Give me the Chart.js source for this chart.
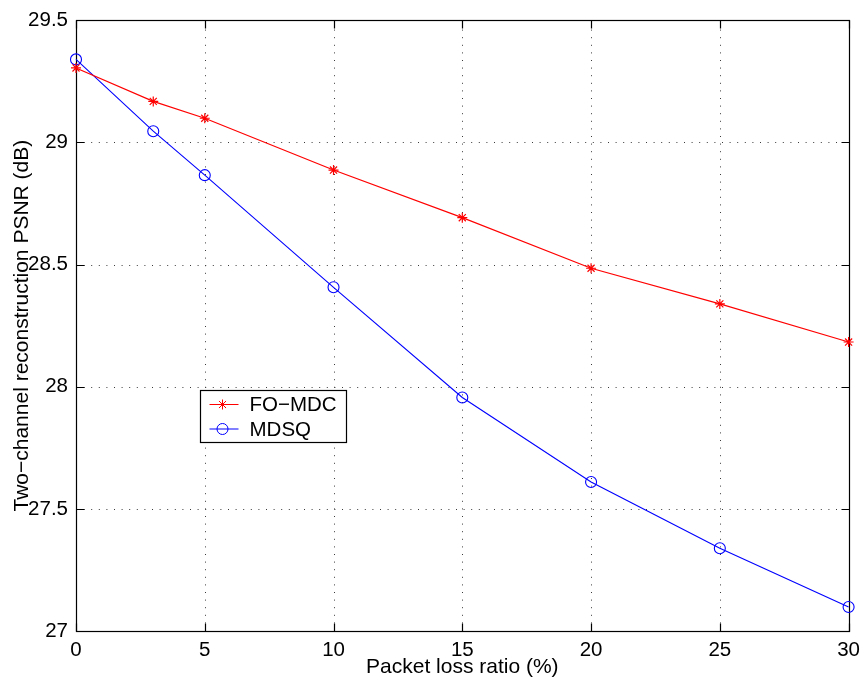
<!DOCTYPE html>
<html><head><meta charset="utf-8">
<script src="https://cdn.jsdelivr.net/npm/chart.js@4"></script>
<style>html,body{margin:0;padding:0;background:#fff}#wrap{width:867px;height:682px}</style>
</head><body><div id="wrap"><canvas id="c" width="867" height="682"></canvas></div>
<script>
const lossRatio = [0, 3, 5, 10, 15, 20, 25, 30];
const foMdc = [29.305, 29.168, 29.099, 28.887, 28.692, 28.485, 28.339, 28.183];
const mdsq = [29.34, 29.046, 28.866, 28.407, 27.956, 27.61, 27.339, 27.098];
const xTicks = [0, 5, 10, 15, 20, 25, 30];
const xTickLabels = ['0', '5', '10', '15', '20', '25', '30'];
const yTicks = [27, 27.5, 28, 28.5, 29, 29.5];
const yTickLabels = ['27', '27.5', '28', '28.5', '29', '29.5'];
const seriesNames = ['FO\u2212MDC', 'MDSQ'];
const xTitle = 'Packet loss ratio (%)';
const yTitle = 'Two\u2212channel reconstruction PSNR (dB)';

const FONT = "'Liberation Sans', Arial, Helvetica, sans-serif";

const framePlugin = {
  id: 'frame',
  beforeDatasetsDraw(chart) {
    const ctx = chart.ctx;
    const {left, right, top, bottom} = chart.chartArea;
    const xs = chart.scales.x, ys = chart.scales.y;
    ctx.save();
    ctx.strokeStyle = '#3a3a3a';
    ctx.lineWidth = 1;
    ctx.setLineDash([1, 6.6]);
    xTicks.forEach(v => {
      const px = Math.round(xs.getPixelForValue(v)) + 0.5;
      if (px <= left + 1 || px >= right - 1) return;
      ctx.beginPath(); ctx.moveTo(px, bottom); ctx.lineTo(px, top); ctx.stroke();
    });
    yTicks.forEach(v => {
      const py = Math.round(ys.getPixelForValue(v)) + 0.5;
      if (py <= top + 1 || py >= bottom - 1) return;
      ctx.beginPath(); ctx.moveTo(left, py); ctx.lineTo(right, py); ctx.stroke();
    });
    ctx.setLineDash([]);
    ctx.strokeStyle = '#000';
    ctx.lineWidth = 1.2;
    const L = Math.round(left) + 0.5, R = Math.round(right) + 0.5, T = Math.round(top) + 0.5, B = Math.round(bottom) + 0.5;
    ctx.strokeRect(L, T, R - L, B - T);
    const tl = 8;
    ctx.beginPath();
    xTicks.forEach(v => {
      const px = Math.round(xs.getPixelForValue(v)) + 0.5;
      ctx.moveTo(px, B); ctx.lineTo(px, B - tl);
      ctx.moveTo(px, T); ctx.lineTo(px, T + tl);
    });
    yTicks.forEach(v => {
      const py = Math.round(ys.getPixelForValue(v)) + 0.5;
      ctx.moveTo(L, py); ctx.lineTo(L + tl, py);
      ctx.moveTo(R, py); ctx.lineTo(R - tl, py);
    });
    ctx.stroke();
    ctx.restore();
  },
  afterDatasetsDraw(chart) {
    const ctx = chart.ctx;
    const {left, top} = chart.chartArea;
    const bx = Math.round(left + 124) + 0.5, by = Math.round(top + 370) + 0.5;
    const bw = 146, bh = 52;
    ctx.save();
    ctx.fillStyle = '#fff';
    ctx.fillRect(bx, by, bw, bh);
    ctx.strokeStyle = '#000';
    ctx.lineWidth = 1.2;
    ctx.strokeRect(bx, by, bw, bh);
    chart.data.datasets.forEach((ds, i) => {
      const ly = by + 14 + i * 24.5;
      ctx.strokeStyle = ds.borderColor;
      ctx.lineWidth = 1;
      ctx.beginPath(); ctx.moveTo(bx + 9, ly); ctx.lineTo(bx + 38, ly); ctx.stroke();
      ctx.fillStyle = ds.pointBackgroundColor;
      ctx.strokeStyle = ds.borderColor;
      Chart.helpers.drawPoint(ctx, {pointStyle: ds.pointStyle, radius: ds.pointRadius, borderWidth: 1, rotation: 0}, bx + 22, ly);
      ctx.fillStyle = '#000';
      ctx.font = '20.5px ' + FONT;
      ctx.textBaseline = 'middle';
      ctx.textAlign = 'left';
      ctx.fillText(ds.label, bx + 49, ly + 1);
    });
    ctx.restore();
  }
};

new Chart(document.getElementById('c'), {
  type: 'line',
  data: {
    datasets: [
      {
        label: seriesNames[0],
        data: lossRatio.map((x, i) => ({x, y: foMdc[i]})),
        borderColor: '#ff0000',
        backgroundColor: '#ff0000',
        pointBackgroundColor: '#ff0000',
        pointBorderColor: '#ff0000',
        pointStyle: 'star',
        pointRadius: 5,
        pointBorderWidth: 1.2,
        borderWidth: 1.2,
        tension: 0,
        clip: false
      },
      {
        label: seriesNames[1],
        data: lossRatio.map((x, i) => ({x, y: mdsq[i]})),
        borderColor: '#0000ff',
        backgroundColor: 'rgba(0,0,0,0)',
        pointBackgroundColor: 'rgba(0,0,0,0)',
        pointBorderColor: '#0000ff',
        pointStyle: 'circle',
        pointRadius: 5.5,
        pointBorderWidth: 1.1,
        borderWidth: 1.1,
        tension: 0,
        clip: false
      }
    ]
  },
  options: {
    responsive: false,
    animation: false,
    devicePixelRatio: 1,
    layout: {padding: {left: 0, right: 14, top: 18, bottom: 0}},
    plugins: {legend: {display: false}, tooltip: {enabled: false}},
    scales: {
      x: {
        type: 'linear', min: 0, max: 30,
        afterBuildTicks: s => { s.ticks = xTicks.map(v => ({value: v})); },
        afterFit: s => { s.height = 51; },
        grid: {display: false, drawTicks: false},
        border: {display: false},
        ticks: {color: '#000', font: {family: FONT, size: 20.5}, padding: 7, maxRotation: 0, autoSkip: false,
          callback: (v) => { const i = xTicks.indexOf(v); return i >= 0 ? xTickLabels[i] : ''; }},
        title: {display: true, text: xTitle, color: '#000', font: {family: FONT, size: 21}, padding: {top: 0, bottom: 2}}
      },
      y: {
        type: 'linear', min: 27, max: 29.5,
        afterBuildTicks: s => { s.ticks = yTicks.map(v => ({value: v})); },
        afterFit: s => { s.width = 76; },
        grid: {display: false, drawTicks: false},
        border: {display: false},
        ticks: {color: '#000', font: {family: FONT, size: 20.5}, padding: 8, autoSkip: false,
          callback: (v) => { const i = yTicks.indexOf(v); return i >= 0 ? yTickLabels[i] : ''; }},
        title: {display: true, text: yTitle, color: '#000', font: {family: FONT, size: 21}, padding: {top: 10, bottom: 0}}
      }
    }
  },
  plugins: [framePlugin]
});
</script>
</body></html>
